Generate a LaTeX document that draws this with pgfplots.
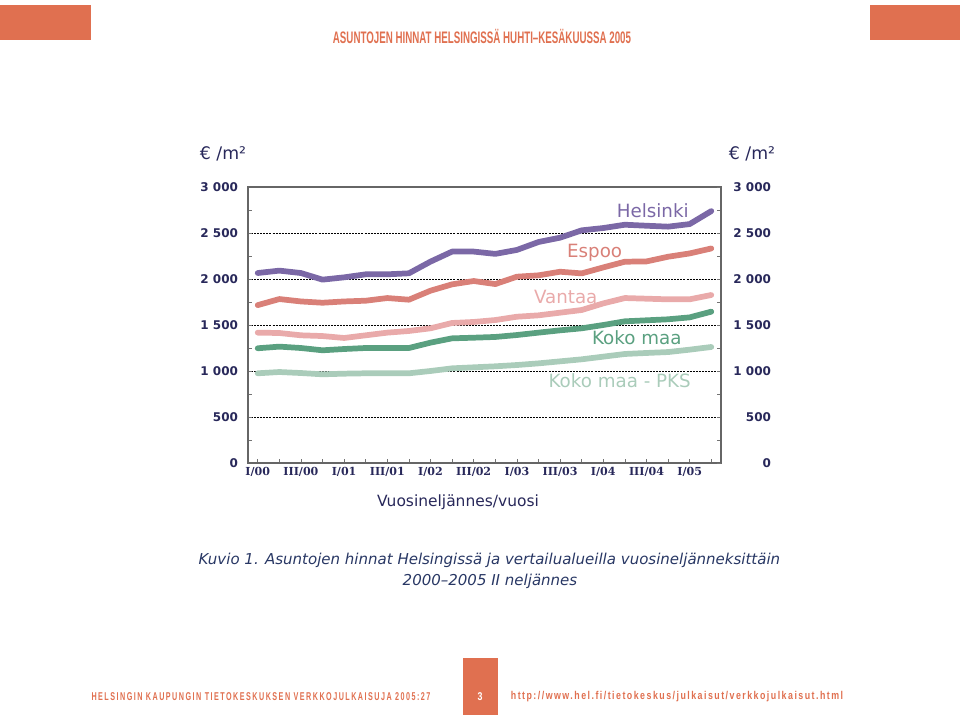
\documentclass[border=0pt]{standalone}
\usepackage{fontspec}
\setmainfont{DejaVu Sans}
\newfontfamily\narrowfont{Liberation Sans}[FakeStretch=0.78]
\newfontfamily\headfont{Liberation Sans}[FakeStretch=0.585]
\newfontfamily\footfont{Liberation Sans}[FakeStretch=0.635]
\newfontfamily\numserif{DejaVu Serif}
\usepackage{pgfplots}
\usepackage{pgfplotstable}
\pgfplotsset{compat=1.18}

\definecolor{orng}{RGB}{224,112,80}
\definecolor{navy}{RGB}{40,40,90}
\definecolor{capt}{RGB}{40,55,100}
\definecolor{cHki}{RGB}{123,104,166}
\definecolor{cEsp}{RGB}{217,128,120}
\definecolor{cVan}{RGB}{233,170,170}
\definecolor{cKoko}{RGB}{90,160,128}
\definecolor{cPks}{RGB}{170,204,186}

% euro/m2 by quarter, I/00 ... II/05
\pgfplotstableread{
q  hki  espoo vantaa koko pks
0  2065 1716  1417   1247 975
1  2091 1782  1413   1265 989
2  2065 1756  1388   1250 978
3  1993 1742  1380   1225 964
4  2018 1756  1359   1239 971
5  2051 1764  1388   1250 975
6  2051 1793  1417   1250 975
7  2062 1775  1435   1250 975
8  2189 1873  1464   1308 1000
9  2298 1942  1522   1355 1029
10 2298 1978  1533   1362 1040
11 2273 1945  1554   1370 1051
12 2316 2025  1590   1391 1065
13 2402 2040  1605   1417 1083
14 2449 2079  1634   1442 1105
15 2529 2061  1663   1464 1127
16 2554 2126  1735   1500 1156
17 2590 2188  1793   1540 1185
18 2579 2191  1786   1551 1196
19 2569 2242  1779   1562 1206
20 2597 2278  1779   1583 1232
21 2738 2332  1826   1645 1261
}\prices

\pgfplotsset{
  ylab/.style={font=\bfseries\fontsize{9}{10}\selectfont, color=navy},
}

\begin{document}
\begin{tikzpicture}
\path (0,0) rectangle (720pt,536.25pt);

% header
\fill[orng] (0,506.25pt) rectangle (68.25pt,532.5pt);
\fill[orng] (652.5pt,506.25pt) rectangle (720pt,532.5pt);
\node[text=orng, font=\headfont\bfseries\fontsize{12.5}{14}\selectfont] at (361.5pt,509.25pt)
  {ASUNTOJEN HINNAT HELSINGISSÄ HUHTI–KESÄKUUSSA 2005};

\begin{axis}[
  at={(186pt,189pt)}, anchor=south west,
  scale only axis, width=354.75pt, height=207pt,
  xmin=-0.45, xmax=21.45, ymin=0, ymax=3000,
  xtick={0,...,21},
  xticklabels={I/00,,III/00,,I/01,,III/01,,I/02,,III/02,,I/03,,III/03,,I/04,,III/04,,I/05,},
  ytick={0,500,...,3000},
  yticklabels={0,500,1~000,1~500,2~000,2~500,3~000},
  minor y tick num=1,
  ymajorgrids,
  major grid style={black, line width=0.5pt, dash pattern=on 1.5pt off 0.8pt},
  tick align=inside,
  major tick length=3pt, minor tick length=3pt,
  tick style={color=black!55, line width=0.5pt},
  axis line style={color=black!60, line width=1pt},
  ytick pos=left, xtick pos=bottom,
  yticklabel style={ylab, xshift=-4pt},
  xticklabel style={font=\numserif\bfseries\fontsize{8.3}{9}\selectfont, color=navy},
  xlabel={Vuosineljännes/vuosi},
  xlabel style={at={(rel axis cs:0.444,0)}, anchor=center, yshift=-29.25pt,
    font=\fontsize{11.6}{13}\selectfont, color=navy},
  every axis plot/.append style={line width=4.3pt, line join=round, line cap=round},
  clip=false,
]
\addplot[cPks]  table[x=q, y=pks]    {\prices};
\addplot[cKoko] table[x=q, y=koko]   {\prices};
\addplot[cVan]  table[x=q, y=vantaa] {\prices};
\addplot[cEsp]  table[x=q, y=espoo]  {\prices};
\addplot[cHki]  table[x=q, y=hki]    {\prices};

\node[text=cHki,  font=\fontsize{13.7}{15}\selectfont] at (axis cs:18.29,2739) {Helsinki};
\node[text=cEsp,  font=\fontsize{13.7}{15}\selectfont] at (axis cs:15.6,2283) {Espoo};
\node[text=cVan,  font=\fontsize{13.7}{15}\selectfont] at (axis cs:14.26,1804) {Vantaa};
\node[text=cKoko, font=\fontsize{13.7}{15}\selectfont] at (axis cs:17.55,1359) {Koko maa};
\node[text=cPks,  font=\fontsize{13.7}{15}\selectfont] at (axis cs:16.76,891) {Koko maa - PKS};
\end{axis}

% right-hand scale
\begin{axis}[
  at={(186pt,189pt)}, anchor=south west,
  scale only axis, width=354.75pt, height=207pt,
  xmin=-0.45, xmax=21.45, ymin=0, ymax=3000,
  axis y line*=right, axis x line=none,
  ytick={0,500,...,3000},
  yticklabels={0,500,1~000,1~500,2~000,2~500,3~000},
  minor y tick num=1,
  tick align=inside,
  major tick length=3pt, minor tick length=3pt,
  tick style={color=black!55, line width=0.5pt},
  axis line style={color=black!60, line width=1pt},
  yticklabel style={ylab, anchor=east, xshift=41pt},
]
\addplot[draw=none] coordinates {(0,0)};
\end{axis}

% unit labels
\node[text=navy, font=\fontsize{13}{15}\selectfont] at (167.25pt,420.75pt) {€ /m²};
\node[text=navy, font=\fontsize{13}{15}\selectfont] at (564pt,420.75pt) {€ /m²};

% caption
\node[text=capt, font=\itshape\fontsize{11.25}{12}\selectfont] at (367pt,116.25pt)
  {Kuvio 1. Asuntojen hinnat Helsingissä ja vertailualueilla vuosineljänneksittäin};
\node[text=capt, font=\itshape\fontsize{11.25}{12}\selectfont] at (367.5pt,100.5pt)
  {2000–2005 II neljännes};

% footer
\fill[orng] (347.25pt,0) rectangle (373.5pt,42.75pt);
\node[text=white, font=\narrowfont\bfseries\fontsize{8.5}{10}\selectfont] at (360pt,13.5pt) {3};
\node[text=orng, font=\footfont\bfseries\fontsize{8.5}{10}\selectfont\addfontfeature{LetterSpace=13}]
  at (195.75pt,13.5pt) {HELSINGIN KAUPUNGIN TIETOKESKUKSEN VERKKOJULKAISUJA 2005:27};
\node[text=orng, font=\narrowfont\bfseries\fontsize{8.5}{10}\selectfont\addfontfeature{LetterSpace=13}]
  at (507.75pt,13.5pt) {http://www.hel.fi/tietokeskus/julkaisut/verkkojulkaisut.html};
\end{tikzpicture}
\end{document}
